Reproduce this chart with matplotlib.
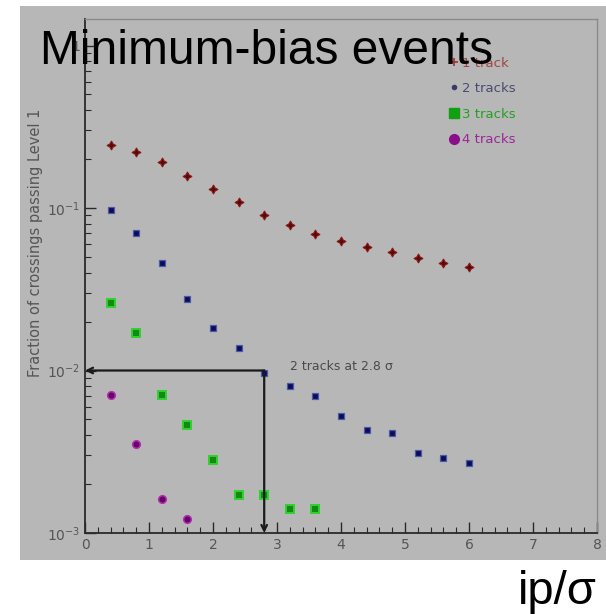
import matplotlib
matplotlib.use('Agg')
import matplotlib.pyplot as plt
from matplotlib.lines import Line2D
from matplotlib.patches import Rectangle
from matplotlib.ticker import FixedLocator, FuncFormatter, MultipleLocator, LogLocator
import numpy as np

# ip/sigma cut values
x1 = [0.4, 0.8, 1.2, 1.6, 2.0, 2.4, 2.8, 3.2, 3.6, 4.0, 4.4, 4.8, 5.2, 5.6, 6.0]
y1 = [0.245, 0.221, 0.192, 0.157, 0.131, 0.109, 0.0905, 0.0786, 0.0692, 0.0627,
      0.0575, 0.0536, 0.0492, 0.0459, 0.0434]
x2 = [0.4, 0.8, 1.2, 1.6, 2.0, 2.4, 2.8, 3.2, 3.6, 4.0, 4.4, 4.8, 5.2, 5.6, 6.0]
y2 = [0.097, 0.0702, 0.0459, 0.0275, 0.0183, 0.0138, 0.0097, 0.0080, 0.0070, 0.00525,
      0.0043, 0.0041, 0.0031, 0.0029, 0.0027]
x3 = [0.4, 0.8, 1.2, 1.6, 2.0, 2.4, 2.8, 3.2, 3.6]
y3 = [0.026, 0.0170, 0.00706, 0.00462, 0.00281, 0.00171, 0.00171, 0.00141, 0.00141]
x4 = [0.4, 0.8, 1.2, 1.6]
y4 = [0.00706, 0.00353, 0.00162, 0.00122]
labels = ['1 track', '2 tracks', '3 tracks', '4 tracks']

cut_x = 2.8
cut_y = 0.01

fig = plt.figure(figsize=(6.06, 6.14), dpi=100)
fig.patch.set_facecolor('white')
# grey slide background behind the plot
fig.patches.append(Rectangle((20/606, 1-560/614), 586/606, 554/614, transform=fig.transFigure,
                             facecolor='#b7b7b7', edgecolor='none', zorder=-10))

ax = fig.add_axes([85/606, 1-533/614, 512/606, 514/614])
ax.set_facecolor('#b7b7b7')
ax.set_yscale('log')
ax.set_xlim(0, 8)
ax.set_ylim(1e-3, 1.456)

ax.plot(x1, y1, ls='none', marker=(4, 1, 0), ms=6.5, mfc='#5a0808', mec='#8a1a1a', mew=0.8)
ax.plot(x2, y2, ls='none', marker='s', ms=5, mfc='#0c0c5a', mec='#4a5aa8', mew=0.9)
ax.plot(x3, y3, ls='none', marker='s', ms=5.5, mfc='#138a13', mec='#30d030', mew=1.4)
ax.plot(x4, y4, ls='none', marker='o', ms=5.5, mfc='#6a006a', mec='#b030b0', mew=1.1)

# cut arrows
ax.annotate('', xy=(0, cut_y), xytext=(cut_x, cut_y),
            arrowprops=dict(arrowstyle='->', color='#1a1a1a', lw=1.6, shrinkA=0, shrinkB=0))
ax.annotate('', xy=(cut_x, 1e-3), xytext=(cut_x, cut_y),
            arrowprops=dict(arrowstyle='->', color='#1a1a1a', lw=1.6, shrinkA=0, shrinkB=0))
ax.text(3.2, 0.0106, '2 tracks at 2.8 σ', fontsize=9, color='#4a4a4a', va='center')

# legend
handles = [Line2D([], [], ls='none', marker='+', ms=6, color='#a03030', mew=1.2),
           Line2D([], [], ls='none', marker='o', ms=3, color='#3a3a6a'),
           Line2D([], [], ls='none', marker='s', ms=7, color='#10a010'),
           Line2D([], [], ls='none', marker='o', ms=7, color='#8a108a')]
leg = ax.legend(handles, labels, loc='upper left', bbox_to_anchor=(0.69, 0.95), frameon=False,
                fontsize=9.5, handlelength=0.6, handletextpad=0.3, labelspacing=0.95)
for t, c in zip(leg.get_texts(), ['#a04545', '#4a4a72', '#22a022', '#982898']):
    t.set_color(c)

# axes styling
for s in ['left', 'bottom']:
    ax.spines[s].set_color('#2a2a2a')
    ax.spines[s].set_linewidth(1.3)
for s in ['top', 'right']:
    ax.spines[s].set_color('#8a8a8a')
    ax.spines[s].set_linewidth(1.0)

ax.xaxis.set_major_locator(MultipleLocator(1))
ax.xaxis.set_minor_locator(MultipleLocator(0.2))
ax.yaxis.set_major_locator(FixedLocator([1e-3, 1e-2, 1e-1, 1]))
ax.yaxis.set_minor_locator(LogLocator(base=10, subs=np.arange(2, 10), numticks=10))
ax.yaxis.set_minor_formatter(FuncFormatter(lambda v, p: ''))
ax.yaxis.set_major_formatter(FuncFormatter(lambda v, p: '1' if v >= 1 else r'$10^{%d}$' % round(np.log10(v))))
ax.tick_params(which='both', direction='in', top=False, right=False, colors='#2a2a2a',
               labelcolor='#555555', labelsize=10)
ax.tick_params(which='major', length=8, width=1.0)
ax.tick_params(which='minor', length=4, width=0.8)

fig.text(36/606, 1-243/614, 'Fraction of crossings passing Level 1', rotation=90,
         ha='center', va='center', fontsize=10.5, color='#555555')

# slide texts
fig.text(40/606, 1-52/614, 'Minimum-bias events', fontsize=34.5, family='Liberation Sans',
         color='black', ha='left', va='center')
fig.text(597/606, 1-592/614, 'ip/σ', fontsize=34, family='Liberation Sans',
         color='black', ha='right', va='center')

fig.savefig('out.png', dpi=100)
